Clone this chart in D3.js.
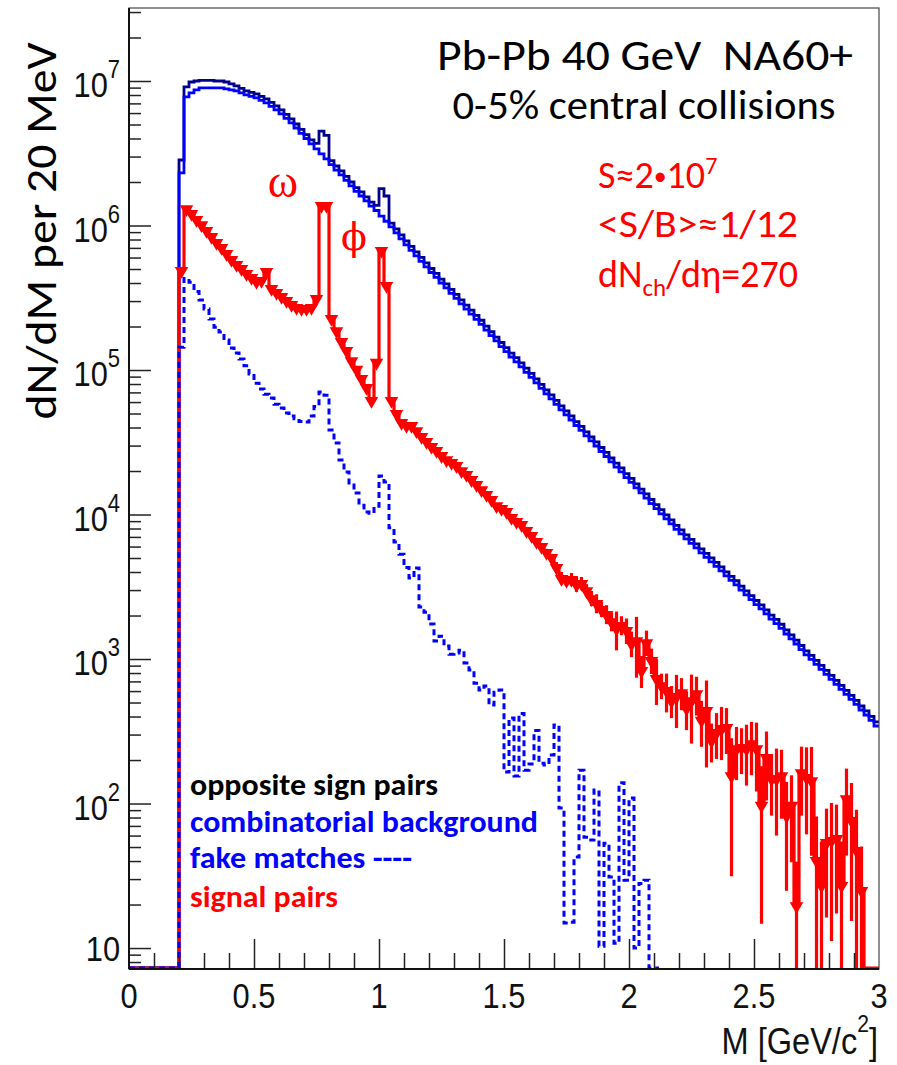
<!DOCTYPE html>
<html><head><meta charset="utf-8">
<script src="https://cdn.jsdelivr.net/npm/d3@7"></script>
<style>body{margin:0;background:#fff}svg{display:block}</style>
</head><body>
<script>
// ---- data: dN/dM per 20 MeV bin, bins start at massStart ----
const massStart = 0.2, binWidth = 0.02;
const oppositeSign = [
2.84e6,9.1e6,9.84e6,1.0e7,1.01e7,1.01e7,1.01e7,1.0e7,1.0e7,9.84e6,
9.55e6,9.24e6,8.9e6,8.54e6,8.34e6,8.14e6,7.82e6,7.52e6,7.11e6,6.73e6,
6.31e6,5.87e6,5.47e6,5.04e6,4.63e6,4.26e6,3.91e6,3.70e6,4.5e6,4.2e6,
2.81e6,2.58e6,2.39e6,2.19e6,2.0e6,1.83e6,1.71e6,1.58e6,1.45e6,1.38e6,
1.8e6,1.6e6,1.04e6,9.48e5,8.61e5,7.82e5,7.16e5,6.57e5,6.01e5,5.51e5,
5.04e5,4.66e5,4.26e5,3.94e5,3.61e5,3.34e5,3.06e5,2.81e5,2.60e5,2.39e5,
2.21e5,2.01e5,1.84e5,1.69e5,1.55e5,1.43e5,1.31e5,1.22e5,1.12e5,1.03e5,
9.48e4,8.68e4,7.95e4,7.28e4,6.73e4,6.16e4,5.64e4,5.21e4,4.81e4,4.40e4,
4.07e4,3.73e4,3.44e4,3.18e4,2.91e4,2.69e4,2.46e4,2.27e4,2.10e4,1.92e4,
1.78e4,1.63e4,1.50e4,1.39e4,1.27e4,1.17e4,1.08e4,9940,9180,8410,
7820,7230,6730,6260,5780,5380,5010,4660,4340,4010,
3730,3480,3200,2960,2750,2540,2370,2190,2010,1880,
1740,1590,1470,1350,1240,1140,1060,979,903,834,
770,711,657,607,560,517,473,437,401,367];
const combinatorial = [
2.31e6,7.76e6,8.27e6,8.68e6,8.96e6,8.96e6,8.96e6,8.96e6,8.96e6,8.82e6,
8.68e6,8.54e6,8.27e6,8.01e6,7.82e6,7.64e6,7.34e6,7.05e6,6.67e6,6.31e6,
5.92e6,5.51e6,5.13e6,4.73e6,4.34e6,4.0e6,3.67e6,3.39e6,3.13e6,2.89e6,
2.64e6,2.42e6,2.24e6,2.05e6,1.88e6,1.72e6,1.60e6,1.48e6,1.36e6,1.27e6,
1.16e6,1.07e6,9.78e5,8.89e5,8.08e5,7.34e5,6.72e5,6.16e5,5.64e5,5.17e5,
4.73e5,4.37e5,4.0e5,3.70e5,3.39e5,3.13e5,2.87e5,2.64e5,2.44e5,2.24e5,
2.07e5,1.89e5,1.73e5,1.59e5,1.45e5,1.34e5,1.23e5,1.14e5,1.05e5,9.62e4,
8.89e4,8.14e4,7.46e4,6.83e4,6.31e4,5.78e4,5.29e4,4.89e4,4.51e4,4.13e4,
3.82e4,3.50e4,3.23e4,2.98e4,2.73e4,2.52e4,2.31e4,2.13e4,1.97e4,1.80e4,
1.67e4,1.53e4,1.41e4,1.30e4,1.19e4,1.10e4,1.01e4,9320,8610,7890,
7340,6780,6310,5870,5420,5050,4700,4370,4070,3760,
3500,3260,3000,2780,2580,2380,2220,2050,1890,1760,
1630,1490,1380,1270,1160,1070,994,918,847,782,
722,667,616,569,525,485,444,410,376,344];
const fakeMatches = [
1.44e5,4.3e5,4.05e5,3.5e5,3.05e5,2.64e5,2.25e5,1.98e5,1.83e5,1.61e5,
1.42e5,1.31e5,1.19e5,1.07e5,9.4e4,8.1e4,7.4e4,6.8e4,6.4e4,5.8e4,
5.45e4,5.05e4,4.8e4,4.6e4,4.4e4,4.36e4,4.8e4,5.6e4,7.05e4,6.7e4,
3.84e4,3.13e4,2.38e4,1.97e4,1.65e4,1.41e4,1.16e4,1.04e4,1.02e4,1.14e4,
1.85e4,1.68e4,8100,6450,5300,4300,3640,4260,2290,2110,
1750,1330,1440,1230,1080,1100,1150,940,840,680,
610,650,480,590,610,165,390,155,420,170,
188,320,190,185,217,350,93,14.9,15.1,42.6,
170,58.5,56,124,10.3,53,31,10.8,139,29.5,
109,10.0,28,29.5,0,0];
const signalPairs = [
4.93e5,1.32e6,1.22e6,1.11e6,1.02e6,9.32e5,8.47e5,7.70e5,7.11e5,6.46e5,
5.87e5,5.42e5,5.09e5,4.70e5,4.41e5,4.13e5,4.20e5,4.85e5,3.70e5,3.47e5,
3.26e5,3.05e5,2.87e5,2.73e5,2.69e5,2.69e5,2.73e5,3.15e5,1.39e6,1.39e6,
2.29e5,1.89e5,1.59e5,1.375e5,1.17e5,1.02e5,8.82e4,7.64e4,6.21e4,1.14e5,
6.78e5,3.88e5,6.21e4,5.05e4,4.37e4,4.17e4,4.17e4,3.84e4,3.50e4,3.23e4,
2.98e4,2.80e4,2.58e4,2.42e4,2.31e4,2.20e4,2.03e4,1.91e4,1.76e4,1.63e4,
1.50e4,1.39e4,1.28e4,1.16e4,1.11e4,1.06e4,9620,9030,8610,7820,
7220,6570,6060,5510,5090,4340,3640,3530,3580,3310,
3360,3000,2640,2440,2220,2050,1830,1640,1720,1590,
1290,1350,840,1310,984,740,660,610,520,555,
590,460,520,580,380,444,275,313,333,339,
157,242,246,242,262,242,98,210,150,150,
157,83,98,19.8,165,153,145,40.7,27.3,54.2,
56,57.8,27.3,109,77,47.7,25.2,0,0,0];
const signalRelErr = [
0.01,0.01,0.01,0.01,0.01,0.01,0.01,0.01,0.01,0.01,
0.01,0.01,0.01,0.01,0.01,0.01,0.01,0.01,0.01,0.01,
0.01,0.01,0.01,0.01,0.01,0.01,0.01,0.01,0.01,0.01,
0.01,0.01,0.01,0.01,0.01,0.01,0.01,0.01,0.01,0.01,
0.01,0.01,0.01,0.01,0.01,0.01,0.01,0.01,0.01,0.01,
0.03,0.03,0.03,0.03,0.03,0.03,0.03,0.03,0.03,0.03,
0.03,0.03,0.03,0.03,0.03,0.05,0.05,0.05,0.05,0.05,
0.05,0.05,0.05,0.05,0.05,0.08,0.1,0.08,0.1,0.12,
0.1,0.1,0.12,0.15,0.12,0.15,0.15,0.3,0.15,0.2,
0.2,0.45,0.25,0.2,0.2,0.35,0.2,0.3,0.25,0.4,
0.25,0.3,0.5,0.3,0.35,0.6,0.3,0.35,0.4,0.35,
0.8,0.4,0.35,0.45,0.4,0.5,0.85,0.5,0.45,0.6,
0.5,0.7,0.6,1.0,0.5,0.6,0.7,1.0,1.0,0.7,
0.8,0.7,1.0,0.6,0.8,0.9,1.0,0,0,0];
const xTickValues = [0,0.5,1,1.5,2,2.5,3];
const xTickLabels = ["0","0.5","1","1.5","2","2.5","3"];
const yDecadeExponents = [1,2,3,4,5,6,7];

// ---- layout ----
const W = 897, H = 1065;
const L = 129, R = 879, T = 8, B = 969;
const svg = d3.select('body').append('svg').attr('width', W).attr('height', H);
const x = d3.scaleLinear([0, 3], [L, R]);
const y = d3.scaleLog([7.16, 3.2e7], [B, T]);
const yBase = B - 1;
const helv = "'Liberation Sans', Arial, Helvetica, sans-serif";
const cal = "Carlito, Lato, 'Open Sans', sans-serif";

svg.append('clipPath').attr('id', 'clip').append('rect')
  .attr('x', L - 2).attr('y', T).attr('width', R - L + 3).attr('height', B - T + 1);

function stepPoints(vals) {
  const pts = [[x(0), yBase], [x(massStart), yBase]];
  vals.forEach((v, i) => {
    const lo = massStart + i * binWidth, hi = lo + binWidth;
    const yy = v > 0 ? y(v) : yBase;
    pts.push([x(lo), yy], [x(hi), yy]);
  });
  return pts;
}
const line = d3.line();
const plot = svg.append('g').attr('clip-path', 'url(#clip)');

plot.append('path').attr('d', line(stepPoints(oppositeSign)))
  .attr('fill', 'none').attr('stroke', '#00008a').attr('stroke-width', 2.8);
plot.append('path').attr('d', line(stepPoints(combinatorial)))
  .attr('fill', 'none').attr('stroke', '#0000ff').attr('stroke-width', 2.8);

// signal: step + error bars + triangle-down markers
plot.append('path').attr('d', line(stepPoints(signalPairs)))
  .attr('fill', 'none').attr('stroke', '#ff0000').attr('stroke-width', 3.2);
const sigBins = signalPairs.map((v, i) => ({v, e: signalRelErr[i], c: massStart + (i + 0.5) * binWidth})).filter(d => d.v > 0);
plot.append('g').selectAll('line').data(sigBins).join('line')
  .attr('x1', d => x(d.c)).attr('x2', d => x(d.c))
  .attr('y1', d => y(d.v * (1 + d.e)))
  .attr('y2', d => d.e >= 1 ? B + 2 : y(Math.max(d.v * (1 - d.e), 7.2)))
  .attr('stroke', '#ff0000').attr('stroke-width', 3.2);
const tri = d3.symbol(d3.symbolTriangle, 80);
plot.append('g').selectAll('path').data(sigBins).join('path')
  .attr('d', tri).attr('fill', '#ff0000')
  .attr('transform', d => `translate(${x(d.c)},${y(d.v) + 1}) rotate(180)`);

// fake matches dashed
plot.append('path').attr('d', line(stepPoints(fakeMatches)))
  .attr('fill', 'none').attr('stroke', '#0000ff').attr('stroke-width', 3)
  .attr('stroke-dasharray', '6,4');

// ---- axes ----
const yMajor = yDecadeExponents.map(e => Math.pow(10, e));
const yMinor = [];
for (let e = 0; e <= 7; e++) for (let k = 2; k <= 9; k++) {
  const v = k * Math.pow(10, e);
  if (v >= 7.16 && v <= 3.2e7) yMinor.push(v);
}
const axisStyle = g => { g.select('.domain').remove(); g.selectAll('line').attr('stroke', '#222').attr('stroke-width', 1.5); g.selectAll('text').remove(); };
svg.append('g').attr('transform', `translate(${L},0)`).call(d3.axisLeft(y).tickValues(yMajor).tickSize(-22).tickFormat(() => '')).call(axisStyle);
svg.append('g').attr('transform', `translate(${L},0)`).call(d3.axisLeft(y).tickValues(yMinor).tickSize(-12).tickFormat(() => '')).call(axisStyle);
const xMinor = d3.range(1, 30).filter(k => k % 5 !== 0).map(k => k / 10);
svg.append('g').attr('transform', `translate(0,${B})`).call(d3.axisBottom(x).tickValues(xTickValues.slice(1, -1)).tickSize(-30).tickFormat(() => '')).call(axisStyle);
svg.append('g').attr('transform', `translate(0,${B})`).call(d3.axisBottom(x).tickValues(xMinor).tickSize(-16).tickFormat(() => '')).call(axisStyle);

// frame
svg.append('rect').attr('x', L).attr('y', T).attr('width', R - L).attr('height', B - T)
  .attr('fill', 'none').attr('stroke', '#444').attr('stroke-width', 1.2);
svg.append('line').attr('x1', L).attr('x2', L).attr('y1', T).attr('y2', B).attr('stroke', '#111').attr('stroke-width', 2);
svg.append('line').attr('x1', L).attr('x2', R).attr('y1', B).attr('y2', B).attr('stroke', '#111').attr('stroke-width', 2);

// tick labels (Helvetica-like, slightly condensed)
function htext(px, py, anchor, size) {
  return svg.append('text').attr('transform', `translate(${px},${py}) scale(0.88,1)`)
    .attr('text-anchor', anchor).style('font-family', helv).style('font-size', size + 'px').attr('fill', '#111');
}
yDecadeExponents.forEach(e => {
  const ty = y(Math.pow(10, e));
  if (e === 1) {
    htext(120, ty + 13, 'end', 35).text('10');
  } else {
    const t = htext(120, ty + 16, 'end', 35);
    t.append('tspan').text('10');
    t.append('tspan').attr('dy', -19).style('font-size', '25px').text(String(e));
  }
});
xTickValues.forEach((v, i) => htext(x(v), 1008, 'middle', 35).text(xTickLabels[i]));
const xt = htext(878, 1054, 'end', 37);
xt.append('tspan').text('M [GeV/c');
xt.append('tspan').attr('dy', -22).style('font-size', '24px').text('2');
xt.append('tspan').attr('dy', 22).text(']');

// y title
svg.append('text').attr('transform', 'translate(56,231) rotate(-90)')
  .attr('text-anchor', 'middle').style('font-family', cal).style('font-size', '44px')
  .attr('textLength', 377).attr('lengthAdjust', 'spacingAndGlyphs').attr('fill', '#000')
  .text('dN/dM per 20 MeV');

// annotations
function ctext(px, py, anchor, size, color, str, len, weight) {
  const t = svg.append('text').attr('x', px).attr('y', py).attr('text-anchor', anchor)
    .style('font-family', cal).style('font-size', size + 'px').attr('fill', color)
    .style('font-weight', weight || 'normal');
  if (str !== null) t.text(str);
  if (len) t.attr('textLength', len).attr('lengthAdjust', 'spacingAndGlyphs');
  return t;
}
ctext(645, 70, 'middle', 43, '#000', 'Pb-Pb 40 GeV\u00a0\u00a0NA60+', 416);
ctext(644, 119, 'middle', 41, '#000', '0-5% central collisions', 383);
const s1 = ctext(598, 188, 'start', 38, '#ff0000', null);
s1.append('tspan').text('S\u22482');
s1.append('tspan').style('font-size', '26px').attr('dy', -3).text('\u2022');
s1.append('tspan').attr('dy', 3).text('10');
s1.append('tspan').attr('dy', -14).style('font-size', '24px').text('7');
ctext(598, 237, 'start', 38, '#ff0000', '<S/B>\u22481/12', 200);
const s3 = ctext(598, 287, 'start', 38, '#ff0000', null);
s3.append('tspan').text('dN');
s3.append('tspan').attr('dy', 9).style('font-size', '25px').text('ch');
s3.append('tspan').attr('dy', -9).text('/d\u03b7=270');

svg.append('text').attr('x', 283).attr('y', 197).attr('text-anchor', 'middle')
  .style('font-family', "'Liberation Serif','DejaVu Serif',serif").style('font-size', '46px')
  .attr('fill', '#ff0000').text('\u03c9');
svg.append('text').attr('x', 354).attr('y', 250).attr('text-anchor', 'middle')
  .style('font-family', "'DejaVu Serif','Liberation Serif',serif").style('font-size', '38px')
  .attr('fill', '#ff0000').text('\u03d5');

// legend
ctext(190, 795, 'start', 30, '#000', 'opposite sign pairs', 248, 'bold');
ctext(190, 832, 'start', 30, '#0000ff', 'combinatorial background', 348, 'bold');
ctext(190, 868, 'start', 30, '#0000ff', 'fake matches ----', 222, 'bold');
ctext(190, 907, 'start', 30, '#ff0000', 'signal pairs', 148, 'bold');
</script>
</body></html>
